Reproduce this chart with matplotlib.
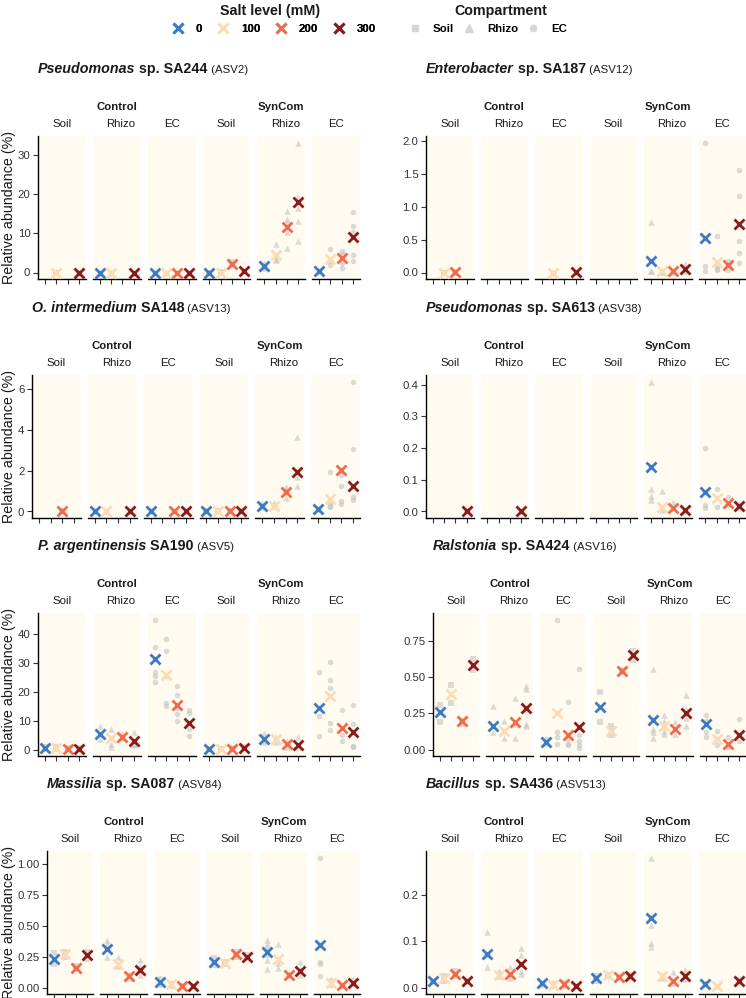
import numpy as np
import matplotlib
matplotlib.use("Agg")
import matplotlib.pyplot as plt
from matplotlib.lines import Line2D

plt.rcParams['font.family'] = ['Liberation Sans', 'DejaVu Sans']

nan = np.nan
SALT = ['0', '100', '200', '300']
SALT_COLORS = ['#3B7BC4', '#FDDCB4', '#F26A4C', '#8C1A1A']
COMPARTMENTS = ['Soil', 'Rhizo', 'EC']
COMP_MARKERS = ['s', '^', 'o']
TREATMENTS = ['Control', 'SynCom']

# ---- taxon titles (italic part, bold part, ASV) ----
TITLES = [
    ("Pseudomonas", " sp. SA244", " (ASV2)"),
    ("Enterobacter", " sp. SA187", " (ASV12)"),
    ("O. intermedium", " SA148", " (ASV13)"),
    ("Pseudomonas", " sp. SA613", " (ASV38)"),
    ("P. argentinensis", " SA190", " (ASV5)"),
    ("Ralstonia", " sp. SA424", " (ASV16)"),
    ("Massilia", " sp. SA087", " (ASV84)"),
    ("Bacillus", " sp. SA436", " (ASV513)"),
]

# facets order: Control Soil, Control Rhizo, Control EC, SynCom Soil, SynCom Rhizo, SynCom EC
# means per salt level (0, 100, 200, 300)
SA244_MEAN = [[nan, 0.0, nan, 0.0], [0.0, 0.0, nan, 0.0], [0.0, 0.0, 0.0, 0.0],
              [0.0, 0.0, 2.3, 0.3], [1.7, 4.4, 11.7, 18.1], [0.3, 3.4, 3.6, 9.1]]
SA244_PTS = [[[], [0, 0], [], [0, 0]], [[0, 0], [0, 0], [], [0, 0]], [[0, 0], [0, 0], [0, 0], [0, 0]],
             [[0, 0], [0, 0.2], [2.0, 2.6], [0.1, 0.5]],
             [[2.5, 1.5, 1.2], [7.4, 4.5, 3.4, 3.2], [15.8, 13.6, 13.0, 10.5, 6.3], [33.3, 19.3, 16.5, 13.3, 8.0]],
             [[0.2, 0.5], [6.0, 3.0, 2.0], [5.6, 4.8, 2.5, 1.2], [15.5, 11.8, 10.3, 4.5, 2.9]]]

SA187_MEAN = [[nan, 0.0, 0.01, nan], [nan, nan, nan, nan], [nan, 0.0, nan, 0.01],
              [nan, nan, nan, nan], [0.17, 0.02, 0.02, 0.06], [0.53, 0.16, 0.11, 0.73]]
SA187_PTS = [[[], [0, 0], [0.01, 0], []], [[], [], [], []], [[], [0, 0], [], [0.01, 0]],
             [[], [], [], []],
             [[0.77, 0.03, 0.02], [0.03, 0.01], [0.01, 0.03], [0.13, 0.05, 0.02]],
             [[1.97, 0.10, 0.03], [0.55, 0.10, 0.05, 0.04], [0.17, 0.12, 0.04], [1.55, 1.16, 0.47, 0.29, 0.15]]]

SA148_MEAN = [[nan, nan, 0.0, nan], [0.0, 0.0, nan, 0.0], [0.0, nan, 0.0, 0.0],
              [0.0, 0.0, 0.0, 0.0], [0.29, 0.28, 0.95, 1.92], [0.10, 0.62, 2.03, 1.23]]
SA148_PTS = [[[], [], [0, 0], []], [[0, 0], [0, 0], [], [0, 0]], [[0, 0], [], [0, 0], [0, 0]],
             [[0, 0], [0, 0], [0, 0], [0, 0]],
             [[0.4, 0.2], [0.4, 0.25], [1.2, 1.1, 0.65], [3.65, 1.7, 1.25]],
             [[0.05, 0.15], [1.95, 0.35, 0.25, 0.2], [1.8, 1.25, 0.5, 0.35], [6.35, 3.05, 0.7, 0.55]]]

SA613_MEAN = [[nan, nan, nan, 0.0], [nan, nan, nan, 0.0], [nan, nan, nan, nan],
              [nan, nan, nan, nan], [0.14, 0.015, 0.012, 0.004], [0.062, 0.043, 0.028, 0.018]]
SA613_PTS = [[[], [], [], [0, 0]], [[], [], [], [0, 0]], [[], [], [], []], [[], [], [], []],
             [[0.41, 0.07, 0.05, 0.035], [0.065, 0.005], [0.03, 0.01], [0.005, 0.002]],
             [[0.20, 0.02, 0.01], [0.07, 0.015], [0.045, 0.02], [0.025, 0.01]]]

SA190_MEAN = [[0.5, 0.5, 0.3, 0.3], [5.3, 4.0, 4.5, 3.0], [31.4, 25.8, 15.3, 9.2],
              [0.1, 0.1, 0.3, 0.6], [3.7, 3.7, 2.0, 1.6], [14.5, 18.5, 7.4, 6.0]]
SA190_PTS = [[[0.8, 0.3], [0.7, 0.3], [0.5, 0.2], [0.5, 0.2]],
             [[8.0, 3.5], [7.0, 2.0, 1.0], [5.5, 4.0], [6.0, 2.0, 1.5]],
             [[45.2, 35.8, 27.0, 25.5, 23.4], [38.3, 34.4, 25.5, 16.3, 15.2],
              [22.0, 18.8, 14.5, 12.2, 9.9], [13.9, 12.8, 7.0, 4.8]],
             [[0.2, 0.1], [0.2, 0.1], [0.5, 0.2], [0.9, 0.4]],
             [[5.8, 2.5], [4.5, 2.7], [3.0, 1.0], [4.5, 0.8]],
             [[26.8, 11.6, 4.8], [30.3, 24.3, 21.3, 9.3, 6.8], [13.9, 5.0, 3.0], [15.6, 9.0, 1.2, 0.8]]]

SA424_MEAN = [[0.257, 0.386, 0.195, 0.584], [0.164, 0.125, 0.19, 0.29], [0.055, 0.25, 0.10, 0.155],
              [0.293, 0.13, 0.545, 0.652], [0.205, 0.165, 0.14, 0.25], [0.175, 0.075, 0.035, 0.10]]
SA424_PTS = [[[0.31, 0.19], [0.45, 0.32], [0.20, 0.18], [0.63, 0.55]],
             [[0.30, 0.12], [0.20, 0.08], [0.36, 0.18, 0.08], [0.44, 0.42, 0.28, 0.18, 0.16]],
             [[0.07, 0.04], [0.90, 0.12, 0.09, 0.04], [0.33, 0.07, 0.04, 0.03], [0.56, 0.10, 0.06, 0.03, 0.01]],
             [[0.40, 0.19], [0.16, 0.10], [0.55, 0.54], [0.68, 0.62]],
             [[0.56, 0.14, 0.12, 0.08], [0.24, 0.20, 0.13, 0.11], [0.19, 0.11], [0.38, 0.28, 0.22, 0.16]],
             [[0.24, 0.20, 0.12, 0.09], [0.13, 0.07, 0.03], [0.09, 0.02], [0.21, 0.06]]]

SA087_MEAN = [[0.23, 0.27, 0.16, 0.26], [0.31, 0.19, 0.09, 0.14], [0.045, 0.025, 0.015, 0.015],
              [0.21, 0.20, 0.27, 0.25], [0.29, 0.23, 0.105, 0.135], [0.345, 0.04, 0.02, 0.04]]
SA087_PTS = [[[0.28, 0.19], [0.29, 0.25], [0.17, 0.15], [0.29, 0.23]],
             [[0.38, 0.35, 0.25], [0.25, 0.17], [0.11, 0.08], [0.22, 0.17, 0.10]],
             [[0.08, 0.02], [0.04, 0.01], [0.02, 0.01], [0.02, 0.01]],
             [[0.24, 0.18], [0.21, 0.19], [0.29, 0.25], [0.26, 0.24]],
             [[0.38, 0.35, 0.32, 0.27, 0.22, 0.15], [0.35, 0.20, 0.16], [0.12, 0.10], [0.21, 0.15, 0.10]],
             [[1.05, 0.21, 0.19, 0.09], [0.06, 0.02], [0.02, 0.01], [0.06, 0.03]]]

SA436_MEAN = [[0.015, 0.02, 0.03, 0.014], [0.073, 0.028, 0.03, 0.05], [0.009, 0.006, 0.007, 0.004],
              [0.02, 0.026, 0.023, 0.024], [0.149, 0.025, 0.015, 0.025], [0.008, 0.004, nan, 0.014]]
SA436_PTS = [[[0.015, 0.012], [0.025, 0.015], [0.035, 0.025], [0.015, 0.012]],
             [[0.12, 0.07, 0.045], [0.035, 0.025], [0.045, 0.02], [0.085, 0.07, 0.035, 0.03]],
             [[0.01, 0.006], [0.01, 0.004], [0.012, 0.004], [0.003, 0.005]],
             [[0.025, 0.015], [0.028, 0.024], [0.022, 0.02], [0.026, 0.02]],
             [[0.28, 0.155, 0.135, 0.095, 0.088], [0.028, 0.02], [0.033, 0.01], [0.037, 0.03, 0.018]],
             [[0.01, 0.005], [0.004, 0.003], [], [0.018, 0.01]]]

MEANS = [SA244_MEAN, SA187_MEAN, SA148_MEAN, SA613_MEAN, SA190_MEAN, SA424_MEAN, SA087_MEAN, SA436_MEAN]
POINTS = [SA244_PTS, SA187_PTS, SA148_PTS, SA613_PTS, SA190_PTS, SA424_PTS, SA087_PTS, SA436_PTS]
YTICKS = [[0, 10, 20, 30], [0.0, 0.5, 1.0, 1.5, 2.0], [0, 2, 4, 6], [0.0, 0.1, 0.2, 0.3, 0.4],
          [0, 10, 20, 30, 40], [0.00, 0.25, 0.50, 0.75], [0.00, 0.25, 0.50, 0.75, 1.00], [0.0, 0.1, 0.2]]
YTICKLABELS = [["0", "10", "20", "30"], ["0.0", "0.5", "1.0", "1.5", "2.0"], ["0", "2", "4", "6"],
               ["0.0", "0.1", "0.2", "0.3", "0.4"], ["0", "10", "20", "30", "40"],
               ["0.00", "0.25", "0.50", "0.75"], ["0.00", "0.25", "0.50", "0.75", "1.00"],
               ["0.0", "0.1", "0.2"]]

# ---- layout (pixels) ----
W, H = 746, 998
fig = plt.figure(figsize=(W / 100, H / 100), dpi=100)
renderer = fig.canvas.get_renderer()

ROW_TOP = [136, 375, 613, 851]
ROW_H = 143
AXIS_X = [38, 426, 32, 426, 38, 433, 47, 426]   # left edge of first facet per sub-plot
RIGHT_X = [360, 746]
GAP = 7
BG = '#FFFBF0'
GREY = '#C4C4C4'
TXT = '#1a1a1a'
TICK_FS = 8.2


def fx(px):
    return px / W


def fy(py):
    return 1 - py / H


for k in range(8):
    row, col = k // 2, k % 2
    top = ROW_TOP[row]
    means = MEANS[k]
    pts = POINTS[k]
    allv = [v for f in means for v in f if not np.isnan(v)] + [v for f in pts for s in f for v in s]
    vmax = max(allv)
    ylo, yhi = -0.05 * vmax, vmax * 1.05
    gx0 = AXIS_X[k]
    w = (RIGHT_X[col] - gx0 - 5 * GAP) / 6.0
    step = w + GAP
    for f in range(6):
        x0 = gx0 + f * step
        ax = fig.add_axes([fx(x0), fy(top + ROW_H), fx(w), ROW_H / H])
        ax.set_facecolor(BG)
        ax.set_xlim(0.4, 4.6)
        ax.set_ylim(ylo, yhi)
        comp = f % 3
        for s in range(4):
            vals = pts[f][s]
            if vals:
                ax.scatter([s + 1] * len(vals), vals, marker=COMP_MARKERS[comp],
                           s=[13, 22, 16][comp], color=GREY, alpha=0.6, linewidths=0, zorder=2,
                           clip_on=False)
        for s in range(4):
            m = means[f][s]
            if not np.isnan(m):
                ax.plot([s + 1], [m], marker='x', color=SALT_COLORS[s], markersize=6.5,
                        markeredgewidth=2.0, linestyle='none', zorder=3)
        for sp in ['top', 'right']:
            ax.spines[sp].set_visible(False)
        ax.spines['bottom'].set_linewidth(1.0)
        ax.spines['bottom'].set_color('black')
        ax.set_xticks([1, 2, 3, 4])
        ax.set_xticklabels([])
        ax.tick_params(axis='x', length=3.5, width=0.8, color='#333333')
        if f == 0:
            ax.spines['left'].set_linewidth(1.0)
            ax.spines['left'].set_color('black')
            ax.set_yticks(YTICKS[k])
            ax.set_yticklabels(YTICKLABELS[k], fontsize=TICK_FS, color='#333333')
            ax.tick_params(axis='y', length=3.5, width=0.8, color='#333333', pad=2)
        else:
            ax.spines['left'].set_visible(False)
            ax.set_yticks([])
        # strip label
        off = 4 if comp == 1 else 0
        fig.text(fx(x0 + w / 2 + off), fy(top - 12), COMPARTMENTS[comp], ha='center', va='center',
                 fontsize=8.2, color=TXT)
    # treatment labels
    for t in range(2):
        xa = gx0 + 3 * t * step
        xb = xa + 2 * step + w
        fig.text(fx((xa + xb) / 2), fy(top - 29), TREATMENTS[t], ha='center', va='center',
                 fontsize=8.2, fontweight='bold', color=TXT)
    # y label
    if col == 0:
        fig.text(fx(9), fy(top + ROW_H / 2), 'Relative abundance (%)', rotation=90,
                 ha='center', va='center', fontsize=10.3, color=TXT)
    # rich title
    it, bd, asv = TITLES[k]
    xpos = fx(gx0)
    ybase = fy(top - 63)
    for txt, wt, st, sz in [(it, 'bold', 'italic', 10.3), (bd, 'bold', 'normal', 10.3),
                            (asv, 'normal', 'normal', 8.2)]:
        tt = fig.text(xpos, ybase, txt, ha='left', va='baseline', fontsize=sz,
                      fontweight=wt, fontstyle=st, color=TXT)
        bb = tt.get_window_extent(renderer)
        xpos = bb.x1 / W

# ---- legends ----
fig.text(fx(270), fy(11), 'Salt level (mM)', ha='center', va='center', fontsize=10.3,
         fontweight='bold', color=TXT)
fig.text(fx(501), fy(11), 'Compartment', ha='center', va='center', fontsize=10.3,
         fontweight='bold', color=TXT)
salt_handles = [Line2D([], [], marker='x', color=c, linestyle='none', markersize=6.5,
                       markeredgewidth=2.0) for c in SALT_COLORS]
leg1 = fig.legend(salt_handles, SALT, loc='center', bbox_to_anchor=(fx(274), fy(29)), ncol=4,
                  frameon=False, prop={'weight': 'bold', 'size': 8.2}, handlelength=1.0,
                  handletextpad=1.08, columnspacing=1.3, borderaxespad=0.0, borderpad=0.0)
comp_handles = [Line2D([], [], marker=m, color='#D6D6D6', linestyle='none', markersize=ms)
                for m, ms in zip(COMP_MARKERS, [4.2, 5.2, 4.5])]
leg2 = fig.legend(comp_handles, COMPARTMENTS, loc='center', bbox_to_anchor=(fx(488), fy(29)), ncol=3,
                  frameon=False, prop={'weight': 'bold', 'size': 8.2}, handlelength=1.0,
                  handletextpad=1.08, columnspacing=0.8, borderaxespad=0.0, borderpad=0.0)
fig.add_artist(leg1)

fig.savefig('out.png', dpi=100)
